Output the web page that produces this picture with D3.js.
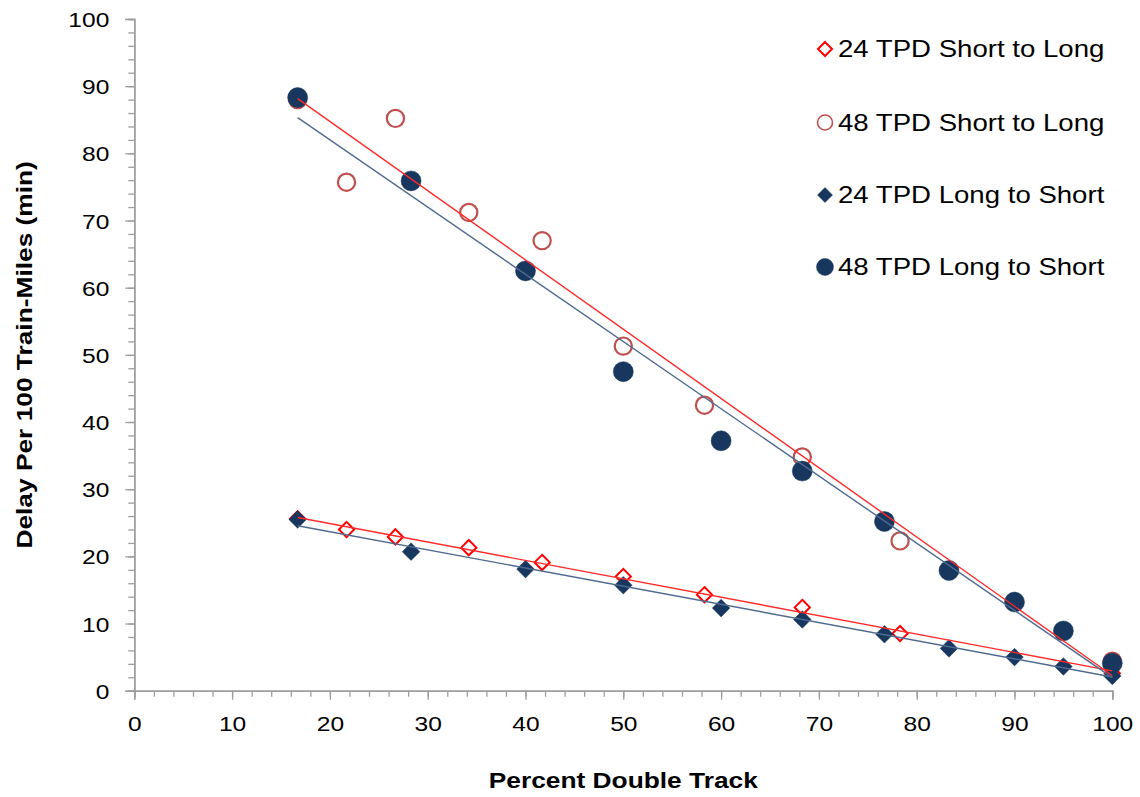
<!DOCTYPE html>
<html>
<head>
<meta charset="utf-8">
<script src="https://cdn.jsdelivr.net/npm/d3@7"></script>
<style>
  html, body { margin: 0; padding: 0; background: #fff; }
  svg { display: block; }
  text { font-family: Arial, "Liberation Sans", sans-serif; fill: #000; }
</style>
</head>
<body>
<svg id="chart" width="1140" height="797"></svg>
<script>
// ---- data ----
const xShortToLong = [16.7, 21.7, 26.7, 34.2, 41.7, 50, 58.3, 68.3, 78.3, 100];
const y24ShortToLong = [25.6, 24.0, 22.9, 21.3, 19.1, 17.0, 14.3, 12.4, 8.5, 2.6];
const y48ShortToLong = [88.0, 75.7, 85.2, 71.2, 67.0, 51.3, 42.5, 34.8, 22.3, 4.4];
const xLongToShort = [16.7, 28.3, 40, 50, 60, 68.3, 76.7, 83.3, 90, 95, 100];
const y24LongToShort = [25.5, 20.7, 18.1, 15.7, 12.3, 10.6, 8.4, 6.3, 5.0, 3.6, 2.2];
const y48LongToShort = [88.3, 75.9, 62.5, 47.5, 37.2, 32.7, 25.2, 17.9, 13.2, 8.9, 4.1];
const seriesNames = ["24 TPD Short to Long", "48 TPD Short to Long", "24 TPD Long to Short", "48 TPD Long to Short"];
const xTicks = [0, 10, 20, 30, 40, 50, 60, 70, 80, 90, 100];
const yTicks = [0, 10, 20, 30, 40, 50, 60, 70, 80, 90, 100];
const xTitle = "Percent Double Track";
const yTitle = "Delay Per 100 Train-Miles (min)";

// ---- styles ----
const NAVY = "#17375E";
const series = [
  {name: seriesNames[0], xs: xShortToLong, ys: y24ShortToLong, shape: "diamond", fill: "#fff", stroke: "#FF0000", sw: 2, size: 7.6, trend: "#FF2A2A", lsize: 7},
  {name: seriesNames[1], xs: xShortToLong, ys: y48ShortToLong, shape: "circle", fill: "#fff", stroke: "#C0504D", sw: 2.2, size: 8.6, trend: "#FF2A2A", lsize: 7.5},
  {name: seriesNames[2], xs: xLongToShort, ys: y24LongToShort, shape: "diamond", fill: NAVY, stroke: NAVY, sw: 0.5, size: 8.8, trend: "#4F6A8F", lsize: 7.5},
  {name: seriesNames[3], xs: xLongToShort, ys: y48LongToShort, shape: "circle", fill: NAVY, stroke: NAVY, sw: 0.5, size: 10, trend: "#4F6A8F", lsize: 8.5}
];
const STRETCH = 1.17;
const AXIS_COLOR = "#9E9E9E";

const svg = d3.select("#chart");
const x = d3.scaleLinear().domain([0, 100]).range([134.3, 1112.3]);
const y = d3.scaleLinear().domain([0, 100]).range([690.7, 19]);

function drawMarker(g, shape, s, fill, stroke, sw) {
  if (shape === "circle") {
    g.append("circle").attr("r", s).attr("fill", fill).attr("stroke", stroke).attr("stroke-width", sw);
  } else {
    g.append("path").attr("d", `M0,${-s}L${s},0L0,${s}L${-s},0Z`).attr("fill", fill).attr("stroke", stroke)
      .attr("stroke-width", sw).attr("stroke-linejoin", "miter");
  }
}

// ---- axes ----
const minorVals = d3.range(0, 101, 2);
const yMinor = svg.append("g").attr("transform", `translate(${x(0)},0)`)
  .call(d3.axisLeft(y).tickValues(minorVals).tickSize(6).tickFormat(""));
const yMajor = svg.append("g").attr("transform", `translate(${x(0)},0)`)
  .call(d3.axisLeft(y).tickValues(yTicks).tickSize(9).tickFormat(d3.format("d")));
const xMinor = svg.append("g").attr("transform", `translate(0,${y(0)})`)
  .call(d3.axisBottom(x).tickValues(minorVals).tickSize(6).tickFormat(""));
const xMajor = svg.append("g").attr("transform", `translate(0,${y(0)})`)
  .call(d3.axisBottom(x).tickValues(xTicks).tickSize(9).tickFormat(d3.format("d")));

[yMinor, yMajor, xMinor, xMajor].forEach(g => {
  g.selectAll(".domain").attr("stroke", AXIS_COLOR).attr("stroke-width", 1.5);
  g.selectAll(".tick line").attr("stroke", AXIS_COLOR).attr("stroke-width", 1.3);
});
yMajor.selectAll(".tick text")
  .attr("x", 0).attr("dy", null).attr("y", 0)
  .attr("transform", `translate(-25,7.5) scale(${STRETCH},1)`)
  .style("font-size", "21px").style("font-family", "Arial, 'Liberation Sans', sans-serif").attr("fill", "#000");
xMajor.selectAll(".tick text")
  .attr("y", 0).attr("dy", null)
  .attr("transform", `translate(0,40) scale(${STRETCH},1)`)
  .style("font-size", "21px").style("font-family", "Arial, 'Liberation Sans', sans-serif").attr("fill", "#000");

// axis titles
svg.append("text")
  .attr("transform", `translate(${(x(0) + x(100)) / 2},788) scale(${STRETCH},1)`)
  .attr("text-anchor", "middle").style("font-size", "22.5px").style("font-weight", "bold")
  .text(xTitle);
svg.append("text")
  .attr("transform", `translate(32,${(y(0) + y(100)) / 2}) rotate(-90) scale(${STRETCH},1)`)
  .attr("text-anchor", "middle").style("font-size", "22.5px").style("font-weight", "bold")
  .text(yTitle);

// ---- markers ----
const plot = svg.append("g");
series.forEach(s => {
  s.xs.forEach((xv, i) => {
    const g = plot.append("g").attr("transform", `translate(${x(xv)},${y(s.ys[i])})`);
    drawMarker(g, s.shape, s.size, s.fill, s.stroke, s.sw);
  });
});

// ---- linear trendlines (least squares) drawn on top ----
function linReg(xs, ys) {
  const mx = d3.mean(xs), my = d3.mean(ys);
  let num = 0, den = 0;
  xs.forEach((xv, i) => { num += (xv - mx) * (ys[i] - my); den += (xv - mx) * (xv - mx); });
  const b = num / den;
  return {b, a: my - b * mx};
}
const line = d3.line().x(d => x(d[0])).y(d => y(d[1]));
series.forEach(s => {
  const r = linReg(s.xs, s.ys);
  const seg = d3.extent(s.xs).map(v => [v, r.a + r.b * v]);
  plot.append("path").attr("d", line(seg)).attr("fill", "none")
    .attr("stroke", s.trend).attr("stroke-width", 1.4);
});

// ---- legend ----
const legendY = [49, 122.5, 195, 267];
const legend = svg.append("g");
series.forEach((s, i) => {
  const g = legend.append("g").attr("transform", `translate(825,${legendY[i]})`);
  drawMarker(g, s.shape, s.lsize, s.fill, s.stroke, s.shape === "circle" && s.fill === "#fff" ? 1.6 : s.sw);
  legend.append("text")
    .attr("transform", `translate(838,${legendY[i] + 8.3}) scale(1.2,1)`)
    .style("font-size", "23px").text(s.name);
});
</script>
</body>
</html>
